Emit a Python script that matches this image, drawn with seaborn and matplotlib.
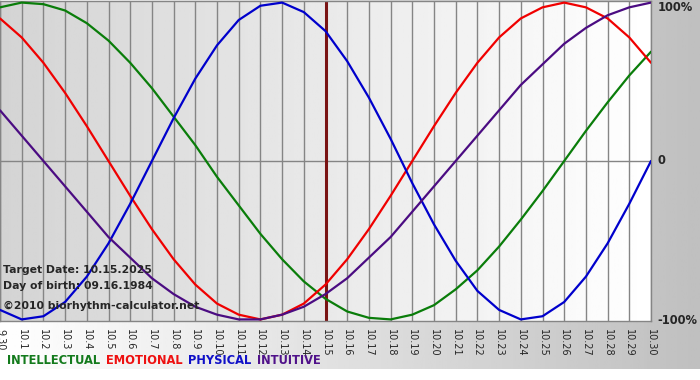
import numpy as np
import pandas as pd
import matplotlib
matplotlib.use("Agg")
import matplotlib.pyplot as plt
import seaborn as sns

# day labels (9.30 .. 10.30)
days = ["9.30"] + [f"10.{d}" for d in range(1, 31)]

intellectual = [0.97, 1.00, 0.99, 0.95, 0.87, 0.76, 0.62, 0.46, 0.28, 0.10,
                -0.10, -0.28, -0.46, -0.62, -0.76, -0.87, -0.95, -0.99, -1.00, -0.97,
                -0.91, -0.81, -0.69, -0.54, -0.37, -0.19, 0.00, 0.19, 0.37, 0.54, 0.69]
emotional = [0.90, 0.78, 0.62, 0.43, 0.22, 0.00, -0.22, -0.43, -0.62, -0.78,
             -0.90, -0.97, -1.00, -0.97, -0.90, -0.78, -0.62, -0.43, -0.22, 0.00,
             0.22, 0.43, 0.62, 0.78, 0.90, 0.97, 1.00, 0.97, 0.90, 0.78, 0.62]
physical = [-0.94, -1.00, -0.98, -0.89, -0.73, -0.52, -0.27, 0.00, 0.27, 0.52,
            0.73, 0.89, 0.98, 1.00, 0.94, 0.82, 0.63, 0.40, 0.14, -0.14,
            -0.40, -0.63, -0.82, -0.94, -1.00, -0.98, -0.89, -0.73, -0.52, -0.27, 0.00]
intuitive = [0.32, 0.16, 0.00, -0.16, -0.32, -0.48, -0.61, -0.74, -0.84, -0.92,
             -0.97, -1.00, -1.00, -0.97, -0.92, -0.84, -0.74, -0.61, -0.48, -0.32,
             -0.16, 0.00, 0.16, 0.32, 0.48, 0.61, 0.74, 0.84, 0.92, 0.97, 1.00]

target_day = "10.15"
target_date = "10.15.2025"
birth_date = "09.16.1984"

series = ["INTELLECTUAL", "EMOTIONAL", "PHYSICAL", "INTUITIVE"]
colors = {"INTELLECTUAL": "#0a7d0a", "EMOTIONAL": "#f00000",
          "PHYSICAL": "#0000cc", "INTUITIVE": "#4b0c82"}
text_colors = {"INTELLECTUAL": "#137a1c", "EMOTIONAL": "#ee1111",
               "PHYSICAL": "#1010c8", "INTUITIVE": "#50128a"}

df = pd.DataFrame({
    "day": days * 4,
    "value": intellectual + emotional + physical + intuitive,
    "cycle": np.repeat(series, len(days)),
})

sns.set_style("white")
plt.rcParams["font.family"] = ["DejaVu Sans"]

fig = plt.figure(figsize=(7, 3.8), dpi=100)
W, H = 700, 380

# background: horizontal gradient white -> gray above the white strip
bg = fig.add_axes([0, 11 / H, 1, 1 - 11 / H])
grad = np.linspace(1.0, 0.75, 256)[None, :]
bg.imshow(grad, cmap="gray", vmin=0, vmax=1, aspect="auto", extent=(0, 1, 0, 1))
bg.set_axis_off()

ax = fig.add_axes([0, (H - 321) / H, 651 / W, 320 / H])
ax.set_facecolor("none")

sns.lineplot(data=df, x="day", y="value", hue="cycle", palette=colors,
             hue_order=series, linewidth=1.6, legend=False, ax=ax,
             sort=False, zorder=3, solid_joinstyle="round")

n = len(days)
ax.set_xlim(0, n - 1)
ax.set_ylim(-1.01, 1.01)
pgrad = np.linspace(0.83, 1.0, 256)[None, :]
ax.imshow(pgrad, cmap="gray", vmin=0, vmax=1, aspect="auto",
          extent=(0, n - 1, -1.01, 1.01), zorder=0)

ax.grid(axis="x", color="#858585", linewidth=1, zorder=1)
ax.grid(axis="y", visible=False)
ax.set_axisbelow(True)
ax.axhline(0, color="#858585", linewidth=1, zorder=1)
ax.axvline(days.index(target_day), color="#7a1414", linewidth=2.2, zorder=2)
for s in ax.spines.values():
    s.set_color("#858585")
    s.set_linewidth(1)

ax.set_xticks(range(n))
ax.set_xticklabels(days, rotation=270, fontsize=7)
ax.tick_params(axis="x", length=4, color="#858585", pad=2, direction="out")
ax.set_yticks([])
ax.set_xlabel("")
ax.set_ylabel("")

# right-hand scale labels
ax.text(1.01, 1.0, "100%", transform=ax.transAxes, fontsize=8.3,
        fontweight="bold", va="top", ha="left")
ax.text(1.01, 0.5, "0", transform=ax.transAxes, fontsize=8.3,
        fontweight="bold", va="center", ha="left")
ax.text(1.01, 0.0, "-100%", transform=ax.transAxes, fontsize=8.3,
        fontweight="bold", va="center", ha="left")

# info text
fig.text(3 / W, 1 - 270 / H, f"Target Date: {target_date}", fontsize=7.8,
         fontweight="bold", va="center", ha="left", zorder=5)
fig.text(3 / W, 1 - 286 / H, f"Day of birth: {birth_date}", fontsize=7.8,
         fontweight="bold", va="center", ha="left", zorder=5)
fig.text(3 / W, 1 - 306 / H, "\u00a92010 biorhythm-calculator.net", fontsize=7.8,
         fontweight="bold", va="center", ha="left", zorder=5)

# coloured legend words
prev = fig.text(7 / W, 1 - 361 / H, series[0], fontsize=8.3, fontweight="bold",
                color=text_colors[series[0]], va="center", ha="left")
for name in series[1:]:
    prev = ax.annotate(name, xy=(1, 0.5), xycoords=prev, xytext=(4, 0),
                       textcoords="offset points", fontsize=8.3,
                       fontweight="bold", color=text_colors[name],
                       va="center", ha="left", annotation_clip=False)

fig.savefig("out.png", dpi=100)
